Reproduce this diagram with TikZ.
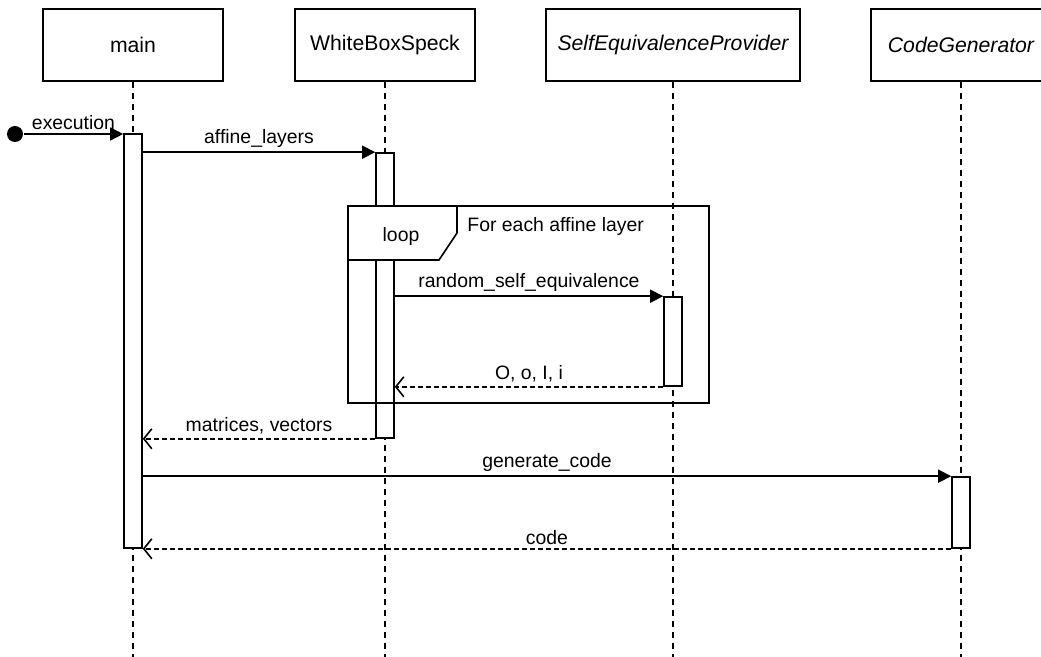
\documentclass[tikz,border=0pt]{standalone}
\usepackage{fontspec}
\setmainfont{Liberation Sans}
\usetikzlibrary{arrows.meta}

\begin{document}
\begin{tikzpicture}[x=0.5pt,y=-0.5pt,line width=0.8pt,
    font=\fontsize{9.7}{11}\selectfont,
    head/.style={draw,fill=white,minimum width=90pt,minimum height=36pt,
      font=\fontsize{10.6}{12}\selectfont},
    bar/.style={draw,fill=white,minimum width=9pt,inner sep=0pt},
    life/.style={line width=0.6pt,dash pattern=on 3pt off 2.5pt},
    call/.style={-{Triangle[length=6.5pt,width=6.5pt]}},
    reply/.style={dash pattern=on 2.5pt off 1.5pt,
      -{Straight Barb[length=4pt,width=10pt]}},
    msg/.style={midway,above=-1.5pt}]
  \useasboundingbox (0,0) rectangle (1041,657);
  \clip (0,0) rectangle (1041,657);
  \coordinate (bottom) at (0,657);
  % lifeline heads
  \node[head] (main) at (133,45) {main};
  \node[head] (wbs) at (385,45) {WhiteBoxSpeck};
  \node[head,minimum width=127pt,font=\fontsize{10.6}{12}\itshape] (sep) at (673,45) {SelfEquivalenceProvider};
  \node[head,font=\fontsize{10.6}{12}\itshape] (cg) at (961,45) {CodeGenerator};
  \foreach \n in {main,wbs,sep,cg}
    \draw[life] (\n.south) -- (\n.south |- bottom);
  % activations
  \node[bar,minimum height=207pt] (mainbar) at (133,341) {};
  \node[bar,minimum height=142.5pt] (wbsbar) at (385,295.5) {};
  \node[bar,minimum height=44.5pt] (sepbar) at (673,341.5) {};
  \node[bar,minimum height=35.5pt] (cgbar) at (961,512.5) {};
  % loop fragment
  \draw (348,206) rectangle (709,403);
  \draw[fill=white] (348,206) -- (457,206) -- (457,233) -- (439,260) -- (348,260) -- cycle;
  \node (looptag) at (401,236) {loop};
  \node[right] (guard) at (460,226) {For each affine layer};
  % messages
  \node[circle,fill,inner sep=0pt,minimum size=8pt] (start) at (15,134) {};
  \draw[call] (start) -- (start -| mainbar.west) node[msg] {execution};
  \draw[call] (mainbar.east |- wbsbar.north) -- (wbsbar.north west) node[msg] {affine\_layers};
  \draw[call] (wbsbar.east |- sepbar.north) -- (sepbar.north west) node[msg] {random\_self\_equivalence};
  \draw[reply] (sepbar.south west) -- (wbsbar.east |- sepbar.south) node[msg] {O, o, I, i};
  \draw[reply] (wbsbar.south west) -- (mainbar.east |- wbsbar.south) node[msg] {matrices, vectors};
  \draw[call] (mainbar.east |- cgbar.north) -- (cgbar.north west) node[msg] {generate\_code};
  \draw[reply] (cgbar.south west) -- (mainbar.south east) node[msg] {code};
\end{tikzpicture}
\end{document}
